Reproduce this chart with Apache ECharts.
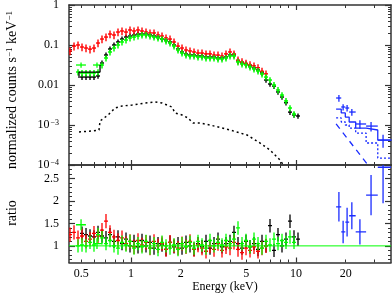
<!DOCTYPE html>
<html>
<head>
<meta charset="utf-8">
<script src="https://cdn.jsdelivr.net/npm/echarts@6.0.0/dist/echarts.min.js"></script>
<style>
html,body{margin:0;padding:0;background:#fff;}
#chart{width:392px;height:295px;}
</style>
</head>
<body>
<div id="chart"></div>
<script>
// ---------------- data ----------------
// bin centre energies (keV) shared by the red / green / black spectra
const energyGrid = [0.4270,0.4514,0.4773,0.5047,0.5337,0.5643,0.5966,0.6310,0.6671,0.7054,
  0.7459,0.7887,0.8340,0.8819,0.9326,0.9861,1.0428,1.1026,1.1659,1.2328,
  1.3036,1.3785,1.4577,1.5414,1.6299,1.7235,1.8224,1.9271,2.0377,2.1544,
  2.2781,2.4089,2.5472,2.6934,2.8480,3.0116,3.1845,3.3673,3.5606,3.7650,
  3.9811,4.2097,4.4514,4.7069,4.9772,5.2629,5.5651,5.8846,6.2224,6.5796,
  6.9573,7.3564,7.7785,8.2251,8.6973,9.1968,9.7249,10.283];

// red spectrum: starts at energyGrid[0]
const redStart = 0;
const redCounts = [0.071,0.094,0.100,0.089,0.084,0.079,0.084,0.112,0.141,0.158,
  0.188,0.178,0.211,0.224,0.211,0.237,0.224,0.237,0.224,0.211,
  0.200,0.200,0.178,0.168,0.150,0.141,0.119,0.094,0.084,0.075,
  0.071,0.067,0.063,0.063,0.060,0.060,0.056,0.056,0.053,0.060,
  0.067,0.060,0.042,0.038,0.035,0.032,0.030,0.027,0.022,0.019];
const redRatio = [1.25,1.30,1.18,1.22,1.10,1.15,1.28,1.22,1.35,1.55,
  1.30,1.20,1.12,1.18,1.05,1.10,0.98,1.12,1.02,1.08,
  0.95,1.10,1.00,1.05,0.92,1.08,1.00,0.95,1.05,0.98,
  1.10,0.92,1.02,0.95,0.88,1.00,0.92,1.05,0.90,0.98,
  0.95,1.08,0.92,0.85,0.95,0.90,0.98,0.88,0.95,1.00];
const redCountErr = 0.22;   // fractional
const redRatioErr = 0.16;

// green spectrum: starts at energyGrid[2]
const greenStart = 2;
const greenCounts = [0.0211,0.0200,0.0200,0.0200,0.0200,0.0211,0.0316,0.0473,0.0668,0.0841,
  0.100,0.119,0.133,0.150,0.158,0.168,0.178,0.178,0.168,0.158,
  0.150,0.141,0.126,0.112,0.0944,0.075,0.0631,0.0562,0.0531,0.0531,
  0.0501,0.0501,0.0473,0.0473,0.0473,0.0447,0.0447,0.0473,0.0531,0.0531,
  0.0376,0.0335,0.0316,0.0282,0.0251,0.0224,0.0188,0.0158,0.0133,0.0100,
  0.0075,0.0056,0.0040,0.00266,0.00188];
const greenRatio = [1.00,1.02,1.00,1.08,1.02,1.25,1.18,1.05,1.12,1.00,
  0.95,1.08,1.02,1.10,0.95,1.05,0.98,1.10,0.95,1.05,
  0.92,1.08,1.00,0.95,1.02,0.92,1.05,0.98,1.08,0.95,
  1.10,1.02,0.95,1.12,1.00,1.08,1.02,1.12,1.05,1.15,
  1.40,1.05,1.12,0.98,1.15,1.05,0.95,1.10,1.02,1.15,
  1.05,1.12,1.08,1.20,1.08];
const greenCountErr = 0.18;
const greenRatioErr = 0.15;
// two wide low-energy green bins
const greenLowE = [0.498, 0.622];
const greenLowLo = [0.464, 0.588];
const greenLowHi = [0.533, 0.667];
const greenLowCounts = [0.0316, 0.0316];
const greenLowRatio = [1.47, 1.05];

// black spectrum: starts at energyGrid[3]
const blackStart = 3;
const blackCounts = [0.0158,0.0158,0.0158,0.0158,0.0168,0.0355,0.0562,0.0794,0.100,0.119,
  0.141,0.158,0.168,0.178,0.188,0.188,0.188,0.178,0.168,0.158,
  0.141,0.133,0.119,0.100,0.0794,0.0668,0.0596,0.0562,0.0562,0.0531,
  0.0531,0.0501,0.0501,0.0501,0.0473,0.0473,0.0501,0.0562,0.0562,0.0398,
  0.0355,0.0335,0.0299,0.0266,0.0237,0.0200,0.0133,0.0106,0.0094,0.0067,
  0.0050,0.0036,0.0021,0.00178,0.00168];
const blackRatio = [1.28,1.25,1.22,1.20,1.30,1.22,1.18,1.25,1.10,1.20,
  1.05,1.15,1.00,1.10,0.98,1.12,1.00,1.08,0.95,1.05,
  1.02,0.92,1.08,0.98,1.05,0.95,1.08,1.00,0.92,1.05,
  0.98,1.10,0.95,1.05,1.15,0.98,1.05,1.10,1.30,1.05,
  0.95,1.10,0.98,1.05,0.92,1.10,1.00,1.45,0.90,1.25,
  1.00,1.15,1.55,1.20,1.15];
const blackCountErr = 0.15;
const blackRatioErr = 0.15;
// black model step at low energies
const blackModelE = [0.484, 0.484, 0.649, 0.649];
const blackModelV = [0.0150, 0.0211, 0.0211, 0.0316];

// black dotted model component
const compE = [0.484,0.580,0.640,0.649,0.726,0.800,0.882,1.014,1.216,1.398,1.541,1.772,1.848,2.037,2.214,2.374,2.620,3.01,3.98,5.05,6.05,6.96,8.0,8.45];
const compV = [0.000668,0.000708,0.00075,0.00126,0.00178,0.00266,0.00299,0.00316,0.00355,0.00376,0.00355,0.00282,0.0020,0.00178,0.0015,0.00112,0.00112,0.0010,0.00075,0.000562,0.000355,0.000237,0.000133,0.0000944];

// blue (hard X-ray) spectrum
const blueE = [18.2, 19.3, 20.4, 21.8, 24.4, 28.5, 33.7];
const blueLo = [17.5, 18.8, 19.9, 21.0, 23.0, 26.6, 31.3];
const blueHi = [18.8, 19.9, 21.0, 23.0, 26.6, 31.3, 38.0];
const blueCounts = [0.00473, 0.00282, 0.00266, 0.00211, 0.00106, 0.00094, 0.00042];
const blueCountErr = [0.0009, 0.0005, 0.0005, 0.0004, 0.00025, 0.00025, 0.00015];
const blueRatio = [1.87, 1.31, 1.53, 1.67, 1.31, 2.13, 2.75];
const blueRatioErr = [0.33, 0.25, 0.32, 0.30, 0.28, 0.45, 0.80];
// blue model (histogram over blueLo/blueHi bins) and components
const blueModel = [0.0025, 0.0020, 0.00158, 0.00119, 0.00084, 0.00075, 0.00042];
const blueDotted = [0.0015, 0.00119, 0.0010, 0.00084, 0.00063, 0.000355, 0.000149];
const blueDashE = [17.5, 31.3];
const blueDashV = [0.00107, 0.000048];

// axes
const X_MIN = 0.4209, X_MAX = 37.65;
const xMajorTicks = [1, 10];
const xMinorTicks = [0.5,0.6,0.7,0.8,0.9,2,3,4,5,6,7,8,9,20,30];
const xTickLabels = [0.5, 1, 2, 5, 10, 20];
const yTopLabels = [0.0001, 0.001, 0.01, 0.1, 1];
const yTopMinor = [2,3,4,5,6,7,8,9].flatMap(k => [1e-4,1e-3,1e-2,1e-1].map(d => k*d));
const RATIO_MIN = 0.63, RATIO_MAX = 2.8;
const ratioLabels = [1, 1.5, 2, 2.5];
const ratioMinor = [0.7,0.8,0.9,1.1,1.2,1.3,1.4,1.6,1.7,1.8,1.9,2.1,2.2,2.3,2.4,2.6,2.7];

// ---------------- chart ----------------
const L = v => Math.log10(v);
const lg = a => a.map(L);
const FONT = 'Liberation Serif';
const AX = '#333';

function binEdges(k) {
  const n = energyGrid.length;
  const lx = L(energyGrid[k]);
  const lo = k > 0 ? (lx + L(energyGrid[k-1])) / 2 : lx - (L(energyGrid[1]) - L(energyGrid[0])) / 2;
  const hi = k < n - 1 ? (lx + L(energyGrid[k+1])) / 2 : lx + (L(energyGrid[n-1]) - L(energyGrid[n-2])) / 2;
  return [lx, lo, hi];
}
function gridPoints(start, counts, frac) {
  return counts.map((v, i) => binEdges(start + i).concat([L(v), L(v * (1 - frac)), L(v * (1 + frac))]));
}
function gridRatio(start, ratios, err) {
  return ratios.map((r, i) => binEdges(start + i).concat([r, r - err, r + err]));
}

function errSeries(pts, color, panel, lw) {
  return {
    type: 'custom', xAxisIndex: panel * 4, yAxisIndex: panel * 4, data: pts,
    clip: true, silent: true, animation: false,
    encode: {x: [0, 1, 2], y: [3, 4, 5]},
    renderItem(params, api) {
      const l = api.coord([api.value(1), api.value(3)]);
      const r = api.coord([api.value(2), api.value(3)]);
      const b = api.coord([api.value(0), api.value(4)]);
      const t = api.coord([api.value(0), api.value(5)]);
      return {type: 'group', children: [
        {type: 'line', shape: {x1: l[0], y1: l[1], x2: r[0], y2: r[1]}, style: {stroke: color, lineWidth: lw}},
        {type: 'line', shape: {x1: b[0], y1: b[1], x2: t[0], y2: t[1]}, style: {stroke: color, lineWidth: lw}}
      ]};
    }
  };
}
function lineSeries(data, color, panel, lw, type) {
  return {
    type: 'line', xAxisIndex: panel * 4, yAxisIndex: panel * 4, data,
    symbol: 'none', silent: true, animation: false, clip: true,
    lineStyle: {color, width: lw, type: type || 'solid'}
  };
}
function histPoints(lo, hi, vals) {
  const out = [];
  vals.forEach((v, i) => { out.push([L(lo[i]), L(v)]); out.push([L(hi[i]), L(v)]); });
  return out;
}

const fmtE = v => String(Math.round(Math.pow(10, v) * 10) / 10);
const fmtTop = v => {
  const p = Math.round(v);
  if (p === 0) return '1';
  if (p === -1) return '0.1';
  if (p === -2) return '0.01';
  return '10{s|\u2212' + (-p) + '}';
};
const labelBase = {color: '#000', fontFamily: FONT, fontSize: 12};
const supRich = {s: {fontFamily: FONT, fontSize: 8, color: '#000', verticalAlign: 'top', padding: [0, 0, 0, 1]}};

function axisPair(gridIndex, pos, min, max, major, minor, majorLen, minorLen, label) {
  const base = {type: 'value', gridIndex, min, max, position: pos, splitLine: {show: false}, axisPointer: {show: false}};
  const a = Object.assign({}, base, {
    axisLine: {show: true, onZero: false, lineStyle: {color: AX, width: 1.5}},
    axisTick: {show: true, inside: true, length: majorLen, customValues: major, lineStyle: {color: AX, width: 1.2}},
    axisLabel: label ? Object.assign({show: true}, labelBase, label) : {show: false}
  });
  const b = Object.assign({}, base, {
    axisLine: {show: false, onZero: false},
    axisTick: {show: true, inside: true, length: minorLen, customValues: minor, lineStyle: {color: AX, width: 1}},
    axisLabel: {show: false}
  });
  return [a, b];
}

const xMin = L(X_MIN), xMax = L(X_MAX);
const xAxes = [
  ...axisPair(0, 'bottom', xMin, xMax, lg(xMajorTicks), lg(xMinorTicks), 5, 3, null),
  ...axisPair(0, 'top', xMin, xMax, lg(xMajorTicks), lg(xMinorTicks), 5, 3, null),
  ...axisPair(1, 'bottom', xMin, xMax, lg(xMajorTicks), lg(xMinorTicks), 5, 3,
    {customValues: lg(xTickLabels), formatter: fmtE, margin: 5}),
  ...axisPair(1, 'top', xMin, xMax, lg(xMajorTicks), lg(xMinorTicks), 5, 3, null)
];
const yAxes = [
  ...axisPair(0, 'left', -4, 0, lg(yTopLabels), lg(yTopMinor), 6, 3,
    {customValues: lg(yTopLabels), formatter: fmtTop, margin: 10, rich: supRich}),
  ...axisPair(0, 'right', -4, 0, lg(yTopLabels), lg(yTopMinor), 6, 3, null),
  ...axisPair(1, 'left', RATIO_MIN, RATIO_MAX, ratioLabels, ratioMinor, 6, 3,
    {customValues: ratioLabels, formatter: v => String(v), margin: 10}),
  ...axisPair(1, 'right', RATIO_MIN, RATIO_MAX, ratioLabels, ratioMinor, 6, 3, null)
];

const greenLowTop = greenLowE.map((e, i) => [L(e), L(greenLowLo[i]), L(greenLowHi[i]),
  L(greenLowCounts[i]), L(greenLowCounts[i] * 0.85), L(greenLowCounts[i] * 1.15)]);
const greenLowBot = greenLowE.map((e, i) => [L(e), L(greenLowLo[i]), L(greenLowHi[i]),
  greenLowRatio[i], greenLowRatio[i] - 0.12, greenLowRatio[i] + 0.12]);
const blueTop = blueE.map((e, i) => [L(e), L(blueLo[i]), L(blueHi[i]),
  L(blueCounts[i]), L(blueCounts[i] - blueCountErr[i]), L(blueCounts[i] + blueCountErr[i])]);
const blueBot = blueE.map((e, i) => [L(e), L(blueLo[i]), L(blueHi[i]),
  blueRatio[i], blueRatio[i] - blueRatioErr[i], blueRatio[i] + blueRatioErr[i]]);

const RED = '#ff0000', GREEN = '#00ff00', BLACK = '#000000', BLUE = '#1a2cff';

const series = [
  // top panel
  lineSeries(compE.map((e, i) => [L(e), L(compV[i])]), BLACK, 0, 1.5, [2, 3]),
  lineSeries(blackModelE.map((e, i) => [L(e), L(blackModelV[i])]), BLACK, 0, 1.3),
  errSeries(gridPoints(blackStart, blackCounts, blackCountErr), BLACK, 0, 1.4),
  errSeries(gridPoints(redStart, redCounts, redCountErr), RED, 0, 1.4),
  errSeries(gridPoints(greenStart, greenCounts, greenCountErr), GREEN, 0, 1.5),
  errSeries(greenLowTop, GREEN, 0, 1.3),
  lineSeries(histPoints(blueLo, blueHi, blueModel), BLUE, 0, 1.3),
  lineSeries(histPoints(blueLo, blueHi, blueDotted), BLUE, 0, 1.3, [2, 2]),
  lineSeries(blueDashE.map((e, i) => [L(e), L(blueDashV[i])]), BLUE, 0, 1.3, [6, 5]),
  errSeries(blueTop, BLUE, 0, 1.3),
  // ratio panel
  lineSeries([[xMin, 1], [xMax, 1]], GREEN, 1, 1),
  errSeries(gridRatio(blackStart, blackRatio, blackRatioErr), BLACK, 1, 1.3),
  errSeries(gridRatio(redStart, redRatio, redRatioErr), RED, 1, 1.3),
  errSeries(gridRatio(greenStart, greenRatio, greenRatioErr), GREEN, 1, 1.3),
  errSeries(greenLowBot, GREEN, 1, 1.3),
  errSeries(blueBot, BLUE, 1, 1.3)
];

const chart = echarts.init(document.getElementById('chart'), null, {renderer: 'canvas', width: 392, height: 295});
chart.setOption({
  animation: false,
  backgroundColor: '#ffffff',
  grid: [
    {left: 69, top: 5, width: 322, height: 160, containLabel: false, outerBoundsMode: 'none'},
    {left: 69, top: 165, width: 322, height: 97.5, containLabel: false, outerBoundsMode: 'none'}
  ],
  xAxis: xAxes,
  yAxis: yAxes,
  series,
  graphic: [
    {type: 'text', x: 12, y: 90, rotation: Math.PI / 2, silent: true,
      style: {text: 'normalized counts s{s|\u22121} keV{s|\u22121}', fontFamily: FONT, fontSize: 14, fill: '#000',
        align: 'center', verticalAlign: 'middle',
        rich: {s: {fontFamily: FONT, fontSize: 9, fill: '#000', verticalAlign: 'top'}}}},
    {type: 'text', x: 12, y: 213, rotation: Math.PI / 2, silent: true,
      style: {text: 'ratio', fontFamily: FONT, fontSize: 14, fill: '#000', align: 'center', verticalAlign: 'middle'}},
    {type: 'text', x: 225, y: 287, silent: true,
      style: {text: 'Energy (keV)', fontFamily: FONT, fontSize: 12, fill: '#000', align: 'center', verticalAlign: 'middle'}}
  ]
});
</script>
</body>
</html>
